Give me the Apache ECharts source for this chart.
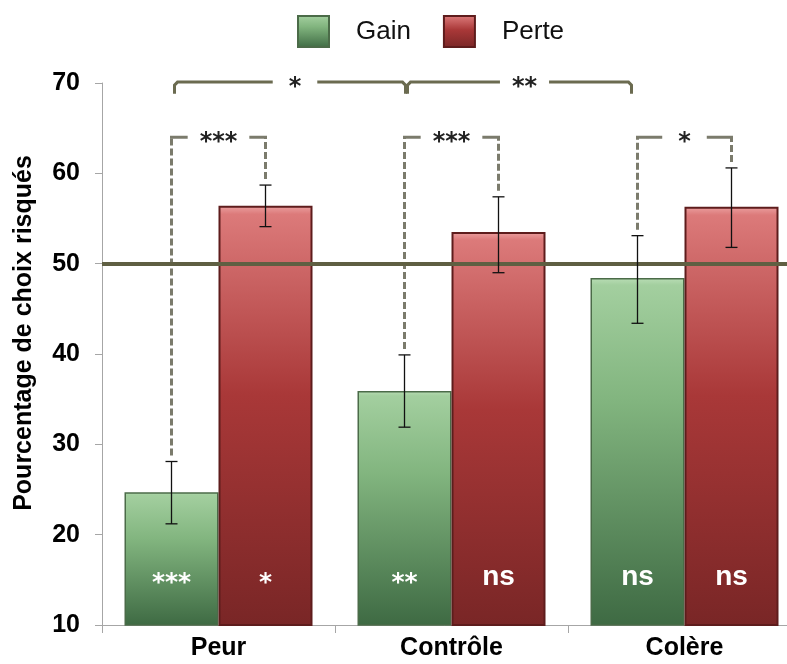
<!DOCTYPE html>
<html>
<head>
<meta charset="utf-8">
<script src="https://cdn.jsdelivr.net/npm/echarts@6/dist/echarts.min.js"></script>
<style>
html,body{margin:0;padding:0;background:#fff;}
#chart{width:787px;height:664px;}
</style>
</head>
<body>
<div id="chart"></div>
<script>
// ---- data ----
const categories = ['Peur', 'Contrôle', 'Colère'];
const gainValues = [24.7, 35.9, 48.4];
const perteValues = [56.4, 53.5, 56.3];
const gainErrLow = [21.2, 31.9, 43.4];
const gainErrHigh = [28.1, 39.9, 53.1];
const perteErrLow = [54.1, 49.0, 51.8];
const perteErrHigh = [58.7, 57.4, 60.6];
const gainSig = ['***', '**', 'ns'];
const perteSig = ['*', 'ns', 'ns'];
const pairSig = ['***', '***', '*'];          // Gain vs Perte within each group
const groupSigFrom = [0, 1];                   // Gain comparisons between groups
const groupSigTo = [1, 2];
const groupSig = ['*', '**'];
const yMin = 10, yMax = 70, yInterval = 10;
const referenceValue = 50;
const pairBracketLevel = 64.0;
const groupBracketLevel = 70.1;
const groupBracketDrop = 68.8;
const sigLabelLevel = 15.3;

// ---- style ----
const FONT = "'Liberation Sans', Arial, sans-serif";
const STARFONT = "'DejaVu Sans', 'Liberation Sans', sans-serif";
const BAR_W = 94;
const HALF = BAR_W / 2;

const greenGrad = {type:'linear',x:0,y:0,x2:0,y2:1,colorStops:[
  {offset:0,color:'#b9ddb5'},{offset:0.02,color:'#a3cf9f'},{offset:0.35,color:'#82b57f'},{offset:1,color:'#3e6a43'}]};
const redGrad = {type:'linear',x:0,y:0,x2:0,y2:1,colorStops:[
  {offset:0,color:'#eba0a0'},{offset:0.02,color:'#dc7a7a'},{offset:0.45,color:'#a93838'},{offset:1,color:'#792626'}]};

function sigText(str, x, y, fs, color, bg) {
  const isStar = str.indexOf('*') >= 0;
  return {
    type: 'text',
    x: x, y: y + (isStar ? fs * 0.24 : 0),
    style: {
      text: str,
      font: 'bold ' + fs + 'px ' + (isStar ? STARFONT : FONT),
      fill: color,
      align: 'center',
      verticalAlign: 'middle',
      backgroundColor: bg || null,
      padding: bg ? [0, isStar && str.length===1 ? 16 : 12] : 0
    }
  };
}

const chart = echarts.init(document.getElementById('chart'), null, {renderer:'canvas'});

const option = {
  animation: false,
  backgroundColor: '#fff',
  legend: {
    left: 297, top: 15, padding: 0,
    itemWidth: 31, itemHeight: 31, itemGap: 32,
    icon: 'rect',
    textStyle: {fontFamily: FONT, fontSize: 26, color: '#111', padding: [0,0,0,22]},
    data: ['Gain', 'Perte']
  },
  grid: {left: 102, width: 699, top: 83, bottom: 39, outerBoundsMode: 'none', containLabel: false},
  xAxis: {
    type: 'category',
    data: categories,
    axisLine: {lineStyle: {color: '#a6a6a6', width: 1}},
    axisTick: {show: true, length: 8, lineStyle: {color: '#a6a6a6'}},
    axisLabel: {fontFamily: FONT, fontWeight: 'bold', fontSize: 25, color: '#000', margin: 11}
  },
  yAxis: {
    type: 'value', min: yMin, max: yMax, interval: yInterval,
    name: 'Pourcentage de choix risqués',
    nameLocation: 'middle', nameGap: 65,
    nameTextStyle: {fontFamily: FONT, fontWeight: 'bold', fontSize: 25, color: '#000', padding: [0,0,0,42]},
    axisLine: {show: true, lineStyle: {color: '#a6a6a6', width: 1}},
    axisTick: {show: true, length: 7, lineStyle: {color: '#a6a6a6'}},
    splitLine: {show: false},
    axisLabel: {fontFamily: FONT, fontWeight: 'bold', fontSize: 25, color: '#000', margin: 22}
  },
  series: [
    {
      name: 'ref', type: 'line', data: [], z: 1, silent: true,
      markLine: {
        silent: true, symbol: ['none','none'], label: {show:false},
        lineStyle: {color: '#5f5f42', width: 4, type: 'solid'},
        data: [{yAxis: referenceValue}]
      }
    },
    {
      name: 'Gain', type: 'bar', barWidth: BAR_W, barGap: '0%', z: 2,
      data: gainValues,
      itemStyle: {color: greenGrad, borderColor: '#4b6b48', borderWidth: 1.5}
    },
    {
      name: 'Perte', type: 'bar', barWidth: BAR_W, barGap: '0%', z: 2,
      data: perteValues,
      itemStyle: {color: redGrad, borderColor: '#5e1c1c', borderWidth: 2}
    },
    {
      // error bars
      type: 'custom', z: 5, silent: true,
      data: categories.map((c, i) => [i, gainErrLow[i], gainErrHigh[i], -1])
        .concat(categories.map((c, i) => [i, perteErrLow[i], perteErrHigh[i], 1])),
      renderItem: function (params, api) {
        const c = api.coord([api.value(0), api.value(1)]);
        const h = api.coord([api.value(0), api.value(2)]);
        const x = c[0] + api.value(3) * HALF;
        const cap = 6;
        const st = {stroke: '#111', lineWidth: 1.3};
        return {type: 'group', children: [
          {type:'line', shape:{x1:x,y1:c[1],x2:x,y2:h[1]}, style: st},
          {type:'line', shape:{x1:x-cap,y1:c[1],x2:x+cap,y2:c[1]}, style: st},
          {type:'line', shape:{x1:x-cap,y1:h[1],x2:x+cap,y2:h[1]}, style: st}
        ]};
      }
    },
    {
      // dashed brackets Gain vs Perte
      type: 'custom', z: 4, silent: true,
      data: categories.map((c, i) => [i, gainErrHigh[i], perteErrHigh[i], pairBracketLevel]),
      renderItem: function (params, api) {
        const i = params.dataIndex;
        const l = api.coord([api.value(0), api.value(1)]);
        const r = api.coord([api.value(0), api.value(2)]);
        const lv = api.coord([api.value(0), api.value(3)]);
        const xL = l[0] - HALF, xR = l[0] + HALF, y = lv[1];
        const gap = 6;
        const col = '#7b7b6c';
        return {type: 'group', children: [
          {type:'line', shape:{x1:xL,y1:l[1]-gap,x2:xL,y2:y}, style:{stroke:col,lineWidth:3,lineDash:[7,3]}},
          {type:'line', shape:{x1:xR,y1:r[1]-gap,x2:xR,y2:y}, style:{stroke:col,lineWidth:3,lineDash:[7,3]}},
          {type:'line', shape:{x1:xL-1.5,y1:y,x2:xR+1.5,y2:y}, style:{stroke:col,lineWidth:3}},
          sigText(pairSig[i], (xL + xR) / 2, y, 24, '#222', '#fff')
        ]};
      }
    },
    {
      // brackets between groups (Gain)
      type: 'custom', z: 4, silent: true,
      data: groupSig.map((s, k) => [groupSigFrom[k], groupSigTo[k], groupBracketLevel, groupBracketDrop]),
      renderItem: function (params, api) {
        const k = params.dataIndex;
        const a = api.coord([api.value(0), api.value(2)]);
        const b = api.coord([api.value(1), api.value(2)]);
        const d = api.coord([api.value(0), api.value(3)]);
        const xA = a[0] - HALF + 3, xB = b[0] - HALF - (k === groupSig.length - 1 ? 6 : -1);
        const y = a[1], yd = d[1];
        const col = '#6b6b50';
        return {type: 'group', children: [
          {type:'polyline', shape:{points:[[xA,yd],[xA,y+3],[xA+3,y],[xB-3,y],[xB,y+3],[xB,yd]]},
            style:{stroke:col,lineWidth:3,fill:null}},
          sigText(groupSig[k], (xA + xB) / 2 + 5, y, 24, '#222', '#fff')
        ]};
      }
    },
    {
      // significance vs 50% inside bars
      type: 'custom', z: 6, silent: true,
      data: categories.map((c, i) => [i, sigLabelLevel, -1]).concat(categories.map((c, i) => [i, sigLabelLevel, 1])),
      renderItem: function (params, api) {
        const n = categories.length;
        const idx = params.dataIndex;
        const txt = idx < n ? gainSig[idx] : perteSig[idx - n];
        const p = api.coord([api.value(0), api.value(1)]);
        return sigText(txt, p[0] + api.value(2) * HALF, p[1], txt === 'ns' ? 28 : 25, '#fff', null);
      }
    }
  ]
};
chart.setOption(option);
</script>
</body>
</html>
